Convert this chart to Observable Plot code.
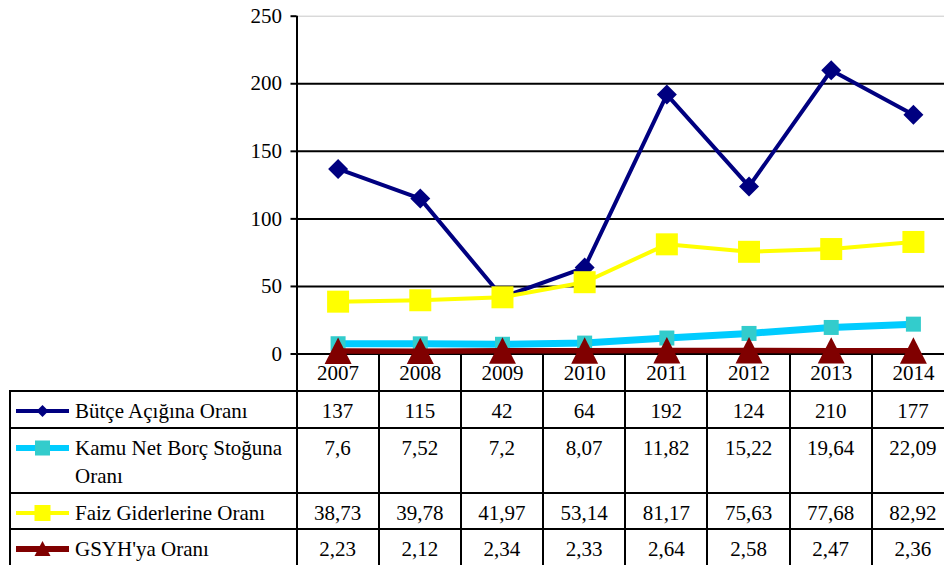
<!DOCTYPE html>
<html>
<head>
<meta charset="utf-8">
<script src="https://cdn.jsdelivr.net/npm/d3@7"></script>
<script src="https://cdn.jsdelivr.net/npm/@observablehq/plot@0.6"></script>
<style>
  html, body { margin: 0; padding: 0; background: #fff; overflow: hidden; }
  #wrap { position: relative; width: 944px; height: 565px; overflow: hidden; background: #fff;
          font-family: "Liberation Serif", "Times New Roman", serif; color: #000; }
  #tbl, #chart { position: absolute; left: 0; top: 0; }
  .hl, .vl { position: absolute; background: #000; }
  .cell { position: absolute; font-size: 21px; line-height: 28px; white-space: nowrap; }
  .val { text-align: center; }
</style>
</head>
<body>
<div id="wrap">
  <div id="tbl"></div>
  <div id="chart"></div>
</div>
<script>
// ---- data ----
const years = [2007, 2008, 2009, 2010, 2011, 2012, 2013, 2014];
const butce = [137, 115, 42, 64, 192, 124, 210, 177];
const kamu = [7.6, 7.52, 7.2, 8.07, 11.82, 15.22, 19.64, 22.09];
const faiz = [38.73, 39.78, 41.97, 53.14, 81.17, 75.63, 77.68, 82.92];
const gsyh = [2.23, 2.12, 2.34, 2.33, 2.64, 2.58, 2.47, 2.36];
const yTicks = [0, 50, 100, 150, 200, 250];
const seriesNames = ["Bütçe Açığına Oranı", "Kamu Net Borç Stoğuna Oranı", "Faiz Giderlerine Oranı", "GSYH'ya Oranı"];
const seriesValues = [butce, kamu, faiz, gsyh];

// ---- custom symbols (size = area; s = full extent) ----
const diamondSym = { draw(ctx, size) { const h = Math.sqrt(size) / 2; ctx.moveTo(0, -h); ctx.lineTo(h, 0); ctx.lineTo(0, h); ctx.lineTo(-h, 0); ctx.closePath(); } };
const squareSym = { draw(ctx, size) { const h = Math.sqrt(size) / 2; ctx.moveTo(-h, -h); ctx.lineTo(h, -h); ctx.lineTo(h, h); ctx.lineTo(-h, h); ctx.closePath(); } };
const triangleSym = { draw(ctx, size) { const h = Math.sqrt(size) / 2; ctx.moveTo(0, -h); ctx.lineTo(h, h * 0.96); ctx.lineTo(-h, h * 0.96); ctx.closePath(); } };
const rFor = s => s / Math.sqrt(Math.PI);

// ---- styles ----
const styles = [
  { line: "#000080", lw: 4, marker: "#000080", symbol: diamondSym, size: 20, legLw: 4, legSize: 12 },
  { line: "#00CCFF", lw: 7, marker: "#33CCCC", symbol: squareSym, size: 15, legLw: 6, legSize: 15 },
  { line: "#FFFF00", lw: 4, marker: "#FFFF00", symbol: squareSym, size: 22, legLw: 4, legSize: 16 },
  { line: "#800000", lw: 5.5, marker: "#800000", symbol: triangleSym, size: 27, legLw: 6, legSize: 16 }
];

const fmt = v => String(v).replace(".", ",");

const seriesMarks = seriesValues.flatMap((vals, i) => {
  const rows = years.map((yr, j) => ({ year: yr, value: vals[j] }));
  const st = styles[i];
  return [
    Plot.line(rows, { x: "year", y: "value", stroke: st.line, strokeWidth: st.lw, strokeLinejoin: "round" }),
    Plot.dot(rows, { x: "year", y: "value", symbol: st.symbol, r: rFor(st.size), fill: st.marker, stroke: "none" })
  ];
});

const chart = Plot.plot({
  width: 954,
  height: 391,
  marginLeft: 296.5,
  marginRight: 0,
  marginTop: 15.7,
  marginBottom: 37.5,
  style: { background: "none", maxWidth: "none", fontFamily: "'Liberation Serif', 'Times New Roman', serif", fontSize: "21px", color: "#000", overflow: "visible" },
  x: { domain: [years[0] - 0.5, years[years.length - 1] + 0.5], label: null },
  y: { domain: [yTicks[0], yTicks[yTicks.length - 1]], label: null },
  marks: [
    Plot.ruleY(yTicks.slice(1, -1), { stroke: "#000", strokeWidth: 2 }),
    Plot.ruleY([yTicks[yTicks.length - 1]], { stroke: "#c8c8c8", strokeWidth: 1 }),
    Plot.ruleY([0], { stroke: "#000", strokeWidth: 2 }),
    Plot.ruleX([years[0] - 0.5], { y1: yTicks[0], y2: yTicks[yTicks.length - 1], stroke: "#000", strokeWidth: 2 }),
    Plot.axisY({ ticks: yTicks, tickSize: 6, tickPadding: 9, tickFormat: d => String(d), strokeWidth: 2, label: null }),
    Plot.axisX({ ticks: years, tickSize: 0, tickPadding: 11, tickFormat: d => String(d), label: null }),
    ...seriesMarks
  ]
});
document.getElementById("chart").appendChild(chart);

// ---- data table below the chart ----
const xs = chart.scale("x");
const edges = [years[0] - 0.5, ...years.map(y => y + 0.5)].map(v => xs.apply(v));
const tableLeft = 10;
const rowTops = [353.5, 391, 428.3, 492.7, 529.3, 567];
const tbl = document.getElementById("tbl");
function add(cls, css, html) {
  const d = document.createElement("div");
  d.className = cls;
  Object.assign(d.style, css);
  if (html != null) d.innerHTML = html;
  tbl.appendChild(d);
  return d;
}
const right = edges[edges.length - 1];
// horizontal lines
for (let k = 1; k < rowTops.length; k++) {
  add("hl", { left: tableLeft - 1 + "px", top: rowTops[k] - 1 + "px", width: right - tableLeft + 2 + "px", height: "2px" });
}
// left border
add("vl", { left: tableLeft - 1 + "px", top: rowTops[1] - 1 + "px", width: "2px", height: rowTops[rowTops.length - 1] - rowTops[1] + 2 + "px" });
// column borders
edges.forEach(e => add("vl", { left: e - 1 + "px", top: rowTops[0] + "px", width: "2px", height: rowTops[rowTops.length - 1] - rowTops[0] + "px" }));

// legend swatches + names
seriesNames.forEach((name, i) => {
  const st = styles[i];
  const top = rowTops[i + 1];
  const s = st.legSize, cx = 32.5, cy = 14;
  let shape;
  if (st.symbol === diamondSym) shape = `<path d="M${cx},${cy - s / 2}L${cx + s / 2},${cy}L${cx},${cy + s / 2}L${cx - s / 2},${cy}Z" fill="${st.marker}"/>`;
  else if (st.symbol === squareSym) shape = `<rect x="${cx - s / 2}" y="${cy - s / 2}" width="${s}" height="${s}" fill="${st.marker}"/>`;
  else shape = `<path d="M${cx},${cy - s / 2}L${cx + s / 2},${cy + s / 2 - 1}L${cx - s / 2},${cy + s / 2 - 1}Z" fill="${st.marker}"/>`;
  const svg = `<svg width="60" height="28" style="position:absolute;left:0;top:0"><line x1="6" x2="59" y1="${cy}" y2="${cy}" stroke="${st.line}" stroke-width="${st.legLw}"/>${shape}</svg>`;
  add("cell", { left: tableLeft + "px", top: top + 6 + "px", width: "60px", height: "28px" }, svg);
  const label = i === 1 ? "Kamu Net Borç Stoğuna<br>Oranı" : name;
  add("cell", { left: "75px", top: top + 6 + "px" }, label);
  seriesValues[i].forEach((v, j) => {
    add("cell val", { left: edges[j] + "px", width: edges[j + 1] - edges[j] + "px", top: top + 6 + "px" }, fmt(v));
  });
});
</script>
</body>
</html>
